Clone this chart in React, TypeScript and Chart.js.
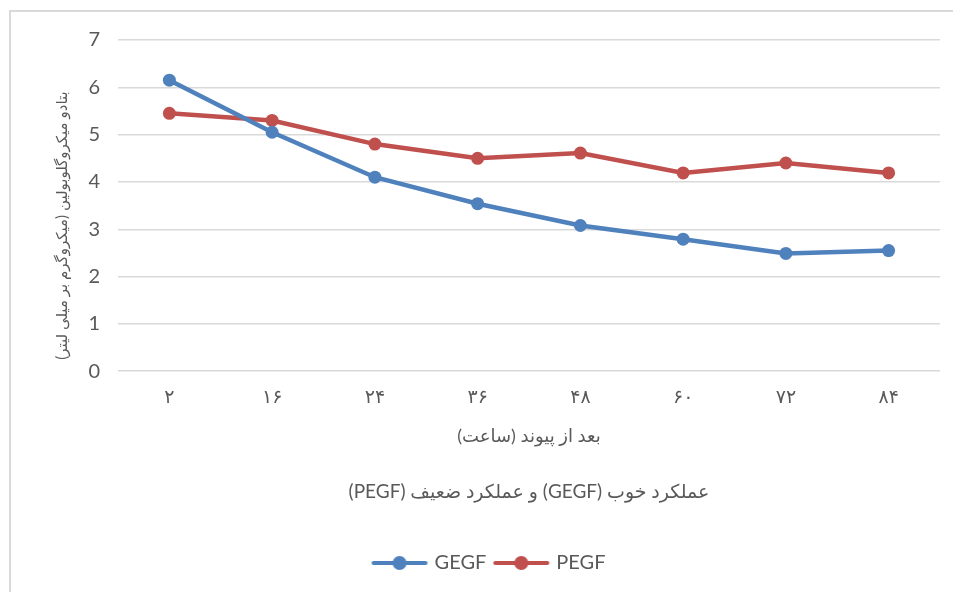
import React, { useEffect, useRef } from "react";
import { Chart, registerables } from "chart.js";

Chart.register(...registerables);

const categories = ["۲", "۱۶", "۲۴", "۳۶", "۴۸", "۶۰", "۷۲", "۸۴"];
const gegf = [6.15, 5.05, 4.1, 3.54, 3.08, 2.79, 2.49, 2.55];
const pegf = [5.45, 5.3, 4.8, 4.5, 4.61, 4.19, 4.4, 4.19];
const seriesNames = ["GEGF", "PEGF"];
const seriesColors = ["#4f81bd", "#c0504d"];
const yTitle = "بتادو میکروگلوبولین (میکروگرم بر میلی لیتر)";
const xTitle = "بعد از پیوند (ساعت)";
const chartTitle = "عملکرد خوب (GEGF) و عملکرد ضعیف (PEGF)";

const FONT = "Lato, 'DejaVu Sans', sans-serif";
const TEXT = "#595959";

function legendMarker(color: string) {
  const c = document.createElement("canvas");
  c.width = 58;
  c.height = 16;
  const ctx = c.getContext("2d")!;
  ctx.strokeStyle = color;
  ctx.lineWidth = 4;
  ctx.lineCap = "round";
  ctx.beginPath();
  ctx.moveTo(3, 8);
  ctx.lineTo(55, 8);
  ctx.stroke();
  ctx.fillStyle = color;
  ctx.beginPath();
  ctx.arc(29, 8, 7, 0, Math.PI * 2);
  ctx.fill();
  return c;
}

const yTitlePlugin = {
  id: "yTitleOffset",
  afterDraw(chart: any) {
    const { ctx, chartArea } = chart;
    const ys = chart.scales.y;
    ctx.save();
    ctx.fillStyle = TEXT;
    ctx.font = `15px ${FONT}`;
    ctx.textAlign = "center";
    ctx.textBaseline = "middle";
    ctx.translate(ys.left + 22, (chartArea.top + chartArea.bottom) / 2 + 20);
    ctx.rotate(-Math.PI / 2);
    ctx.fillText(yTitle, 0, 0);
    ctx.restore();
  },
};

export default function App() {
  const ref = useRef<HTMLCanvasElement>(null);
  useEffect(() => {
    document.body.style.overflow = "hidden";
    const markers = seriesColors.map(legendMarker);
    const chart = new Chart(ref.current!, {
      type: "line",
      data: {
        labels: categories,
        datasets: [gegf, pegf].map((d, i) => ({
          label: seriesNames[i],
          data: d,
          borderColor: seriesColors[i],
          backgroundColor: seriesColors[i],
          borderWidth: 4.5,
          pointRadius: 6.5,
          pointHoverRadius: 6.5,
          pointBorderWidth: 0,
          tension: 0,
        })),
      },
      plugins: [yTitlePlugin],
      options: {
        animation: false,
        responsive: false,
        layout: { padding: { left: 40, right: 13, top: 40, bottom: 9 } },
        scales: {
          x: {
            offset: true,
            grid: { display: false, drawTicks: false },
            border: { display: false },
            ticks: { color: TEXT, font: { family: FONT, size: 19 }, padding: 14 },
            title: {
              display: true,
              text: xTitle,
              color: TEXT,
              font: { family: FONT, size: 18 },
              padding: { top: 4, bottom: 0 },
            },
            afterFit: (s: any) => {
              s.height = 76;
            },
          },
          y: {
            min: 0,
            max: 7,
            ticks: { stepSize: 1, color: TEXT, font: { family: FONT, size: 20 }, padding: 18 },
            grid: { color: "#d9d9d9", lineWidth: 1.5, drawTicks: false },
            border: { display: false },
            title: { display: false },
            afterFit: (s: any) => {
              s.width = 78;
            },
          },
        },
        plugins: {
          title: {
            display: true,
            position: "bottom",
            fullSize: false,
            text: chartTitle,
            color: TEXT,
            font: { family: FONT, size: 19, weight: "normal" },
            padding: { top: 33, bottom: 40 },
            weight: 500,
          } as any,
          legend: {
            position: "bottom",
            weight: 3000,
            labels: {
              usePointStyle: true,
              pointStyleWidth: 50,
              color: TEXT,
              font: { family: FONT, size: 20 },
              padding: 10,
              generateLabels: (ch: any) =>
                ch.data.datasets.map((ds: any, i: number) => ({
                  text: ds.label,
                  fillStyle: seriesColors[i],
                  strokeStyle: seriesColors[i],
                  lineWidth: 0,
                  pointStyle: markers[i],
                  fontColor: TEXT,
                  hidden: false,
                  datasetIndex: i,
                })),
            },
          } as any,
          tooltip: { enabled: false },
        },
      },
    });
    return () => chart.destroy();
  }, []);

  return (
    <div style={{ position: "fixed", left: 0, top: 0, width: 953, height: 592, background: "#fff" }}>
      <div
        style={{
          position: "absolute",
          left: 9,
          top: 10,
          width: 1000,
          height: 1000,
          borderLeft: "2px solid #d9d9d9",
          borderTop: "2px solid #d9d9d9",
        }}
      />
      <canvas
        ref={ref}
        dir="rtl"
        width={953}
        height={592}
        style={{ position: "absolute", left: 0, top: 0, width: 953, height: 592 }}
      />
    </div>
  );
}
